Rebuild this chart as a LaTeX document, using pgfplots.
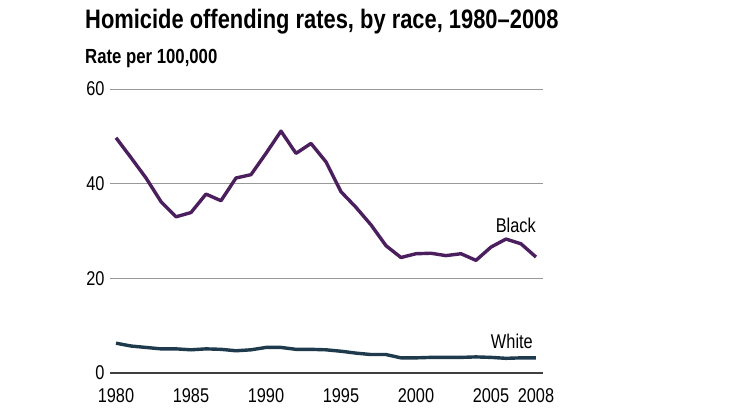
\documentclass[border=0pt]{standalone}
\usepackage{fontspec}
\setmainfont{Liberation Sans}[FakeStretch=0.82]
\usepackage{pgfplots}
\pgfplotsset{compat=1.18}
\definecolor{blk}{HTML}{4B1F5E}
\definecolor{wht}{HTML}{1E3A4C}
\begin{document}
\begin{tikzpicture}[x=1bp,y=1bp]
\useasboundingbox (0,0) rectangle (738,414);
\node[anchor=base west, font=\fontsize{26.8}{30}\selectfont\bfseries, inner sep=0] at (85,386) {Homicide offending rates, by race, 1980--2008};
\node[anchor=base west, font=\fontsize{20.5}{24}\selectfont\bfseries, inner sep=0] at (85,351) {Rate per 100,000};
\begin{axis}[at={(110bp,41bp)}, anchor=south west, scale only axis,
  width=433bp, height=284bp,
  xmin=1979.6, xmax=2008.47, ymin=0, ymax=60,
  clip=false,
  axis line style={draw=none},
  major tick length=0,
  ytick={20,40,60},
  extra y ticks={0},
  extra y tick style={grid style={black!75, line width=1.3bp}},
  ymajorgrids,
  grid style={black!40, line width=0.9bp},
  xtick={1980,1985,1990,1995,2000,2005,2008},
  tick label style={font=\fontsize{20}{22}\selectfont},
  /pgf/number format/assume math mode=true,
  x tick label style={/pgf/number format/1000 sep={}, anchor=north, yshift=-12bp},
  y tick label style={xshift=-2bp},
]
\addplot[blk, line width=3.4bp, line join=round] coordinates {
(1980,49.7) (1981,45.5) (1982,41.2) (1983,36.2) (1984,33.0) (1985,33.9)
(1986,37.8) (1987,36.4) (1988,41.2) (1989,41.9) (1990,46.4) (1991,51.1)
(1992,46.4) (1993,48.5) (1994,44.6) (1995,38.3) (1996,35.0) (1997,31.3)
(1998,26.9) (1999,24.4) (2000,25.2) (2001,25.3) (2002,24.8) (2003,25.2)
(2004,23.8) (2005,26.6) (2006,28.3) (2007,27.3) (2008,24.5)
};
\addplot[wht, line width=3.4bp, line join=round] coordinates {
(1980,6.3) (1981,5.7) (1982,5.4) (1983,5.1) (1984,5.1) (1985,4.9)
(1986,5.1) (1987,5.0) (1988,4.7) (1989,4.9) (1990,5.4) (1991,5.4)
(1992,5.0) (1993,5.0) (1994,4.9) (1995,4.6) (1996,4.2) (1997,3.9)
(1998,3.9) (1999,3.2) (2000,3.2) (2001,3.3) (2002,3.3) (2003,3.3)
(2004,3.4) (2005,3.3) (2006,3.1) (2007,3.2) (2008,3.2)
};
\node[anchor=base east, inner sep=0, font=\fontsize{20}{22}\selectfont] at (axis cs:2008,29.6) {Black};
\node[anchor=base east, inner sep=0, font=\fontsize{20}{22}\selectfont] at (axis cs:2007.8,5.1) {White};
\end{axis}
\end{tikzpicture}
\end{document}
